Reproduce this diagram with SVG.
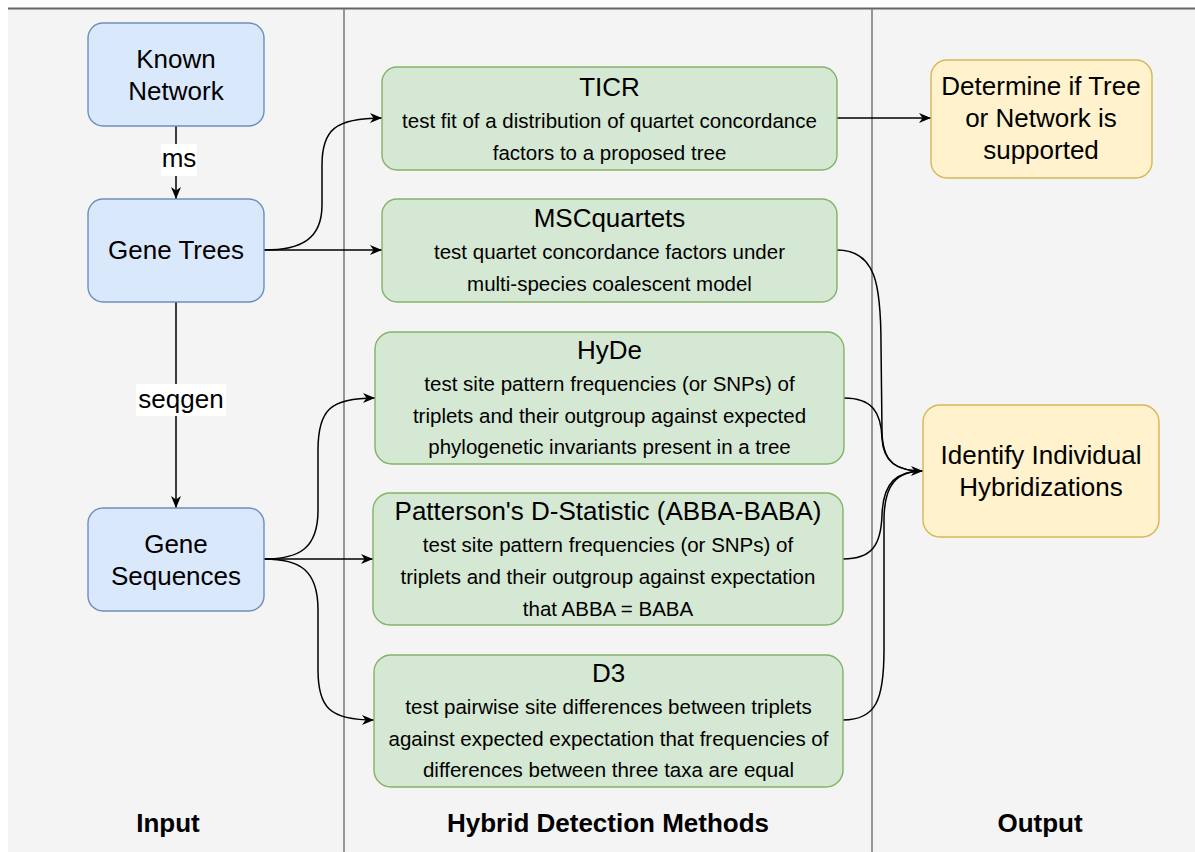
<svg xmlns="http://www.w3.org/2000/svg" width="1195" height="852" viewBox="0 0 1195 852">
<defs>
<marker id="arr" markerUnits="userSpaceOnUse" markerWidth="14" markerHeight="12" refX="12" refY="5" orient="auto" viewBox="0 0 14 12">
<path d="M0,0 L12,5 L0,10 L3.5,5 Z" fill="#000"/>
</marker>
<style>
text{font-family:"Liberation Sans",Arial,Helvetica,sans-serif;fill:#000;text-anchor:middle}
.lbl{font-size:26px}
.ttl{font-size:26px}
.dsc{font-size:20.5px}
.hdr{font-size:26px;font-weight:bold}
.blue{fill:#dae8fc;stroke:#6c8ebf;stroke-width:1.4}
.green{fill:#d5e8d4;stroke:#82b366;stroke-width:1.4}
.yellow{fill:#fff2cc;stroke:#d6b656;stroke-width:1.4}
.edge{fill:none;stroke:#000;stroke-width:1.5}
.div{stroke:#777;stroke-width:1.5}
</style>
</defs>
<rect x="0" y="0" width="1195" height="852" fill="#ffffff"/>
<rect x="8" y="8" width="1187" height="844" fill="#f4f4f4"/>
<line x1="8" y1="8.5" x2="1195" y2="8.5" stroke="#666" stroke-width="2"/>
<line class="div" x1="344" y1="9" x2="344" y2="852"/>
<line class="div" x1="872" y1="9" x2="872" y2="852"/>

<g id="headers">
<text class="hdr" x="168" y="832">Input</text>
<text class="hdr" x="608" y="832">Hybrid Detection Methods</text>
<text class="hdr" x="1040" y="832">Output</text>
</g>

<g id="connectors">
<line class="edge" x1="176" y1="126" x2="176" y2="199" marker-end="url(#arr)"/>
<line class="edge" x1="176" y1="302" x2="176" y2="508" marker-end="url(#arr)"/>
<path class="edge" d="M264,250 C300,250 322,240 322,205 L322,165 C322,130 335,118 382,118" marker-end="url(#arr)"/>
<line class="edge" x1="264" y1="250" x2="382" y2="250" marker-end="url(#arr)"/>
<path class="edge" d="M264,559 C300,559 318,548 318,510 L318,450 C318,410 330,398 375,398" marker-end="url(#arr)"/>
<line class="edge" x1="264" y1="559" x2="373" y2="559" marker-end="url(#arr)"/>
<path class="edge" d="M264,559 C300,559 318,570 318,610 L318,670 C318,708 330,720 374,720" marker-end="url(#arr)"/>
<line class="edge" x1="837" y1="118" x2="931" y2="118" marker-end="url(#arr)"/>
<path class="edge" d="M837,250 C876,250 881,285 881,345 L882,430 C882,462 895,471 923,471" marker-end="url(#arr)"/>
<path class="edge" d="M844,398 C872,398 881,412 882,438 C883,462 897,471 923,471"/>
<path class="edge" d="M843,559 C872,559 881,545 882,515 C883,482 897,471 923,471"/>
<path class="edge" d="M843,720 C876,720 884,700 884,650 L884,520 C884,484 897,471 923,471"/>
<rect x="161" y="144" width="36" height="32" fill="#fff"/>
<text class="lbl" x="179" y="167">ms</text>
<rect x="136" y="384" width="90" height="32" fill="#fff"/>
<text class="lbl" x="181" y="408">seqgen</text>
</g>

<g id="known-network">
<rect class="blue" x="88" y="23" width="176" height="103" rx="15"/>
<text class="lbl" x="176" y="68">Known</text>
<text class="lbl" x="176" y="100">Network</text>
</g>
<g id="gene-trees">
<rect class="blue" x="88" y="199" width="176" height="103" rx="15"/>
<text class="lbl" x="176" y="259">Gene Trees</text>
</g>
<g id="gene-sequences">
<rect class="blue" x="88" y="508" width="176" height="103" rx="15"/>
<text class="lbl" x="176" y="553">Gene</text>
<text class="lbl" x="176" y="585">Sequences</text>
</g>

<g id="ticr">
<rect class="green" x="382" y="67" width="455" height="103" rx="15"/>
<text class="ttl" x="609.5" y="96">TICR</text>
<text class="dsc" x="609.5" y="128">test fit of a distribution of quartet concordance</text>
<text class="dsc" x="609.5" y="160">factors to a proposed tree</text>
</g>
<g id="msc">
<rect class="green" x="382" y="199" width="455" height="103" rx="15"/>
<text class="ttl" x="609.5" y="227">MSCquartets</text>
<text class="dsc" x="609.5" y="259">test quartet concordance factors under</text>
<text class="dsc" x="609.5" y="291">multi-species coalescent model</text>
</g>
<g id="hyde">
<rect class="green" x="375" y="332" width="469" height="132" rx="17"/>
<text class="ttl" x="609.5" y="359">HyDe</text>
<text class="dsc" x="609.5" y="391">test site pattern frequencies (or SNPs) of</text>
<text class="dsc" x="609.5" y="423">triplets and their outgroup against expected</text>
<text class="dsc" x="609.5" y="454">phylogenetic invariants present in a tree</text>
</g>
<g id="patterson">
<rect class="green" x="373" y="493" width="470" height="132" rx="17"/>
<text class="ttl" x="608" y="520">Patterson's D-Statistic (ABBA-BABA)</text>
<text class="dsc" x="608" y="552">test site pattern frequencies (or SNPs) of</text>
<text class="dsc" x="608" y="584">triplets and their outgroup against expectation</text>
<text class="dsc" x="608" y="616">that ABBA = BABA</text>
</g>
<g id="d3">
<rect class="green" x="374" y="655" width="469" height="132" rx="17"/>
<text class="ttl" x="608.5" y="682">D3</text>
<text class="dsc" x="608.5" y="714">test pairwise site differences between triplets</text>
<text class="dsc" x="608.5" y="746">against expected expectation that frequencies of</text>
<text class="dsc" x="608.5" y="777">differences between three taxa are equal</text>
</g>

<g id="determine">
<rect class="yellow" x="931" y="60" width="221" height="118" rx="16"/>
<text class="lbl" x="1041" y="95">Determine if Tree</text>
<text class="lbl" x="1041" y="127">or Network is</text>
<text class="lbl" x="1041" y="159">supported</text>
</g>
<g id="identify">
<rect class="yellow" x="923" y="405" width="236" height="132" rx="17"/>
<text class="lbl" x="1041" y="464">Identify Individual</text>
<text class="lbl" x="1041" y="496">Hybridizations</text>
</g>
</svg>
